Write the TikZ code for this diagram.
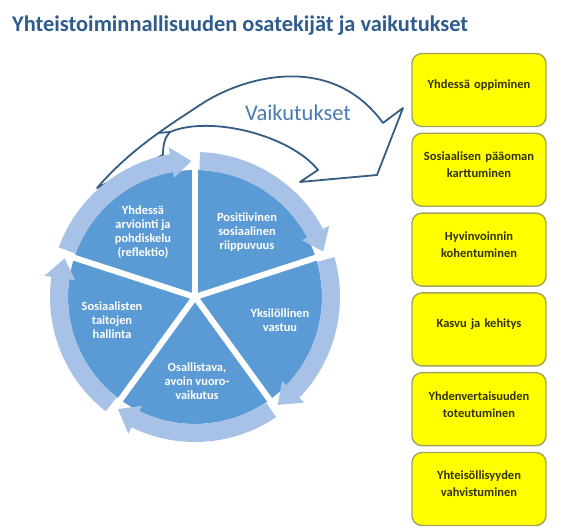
\documentclass[tikz,border=0pt]{standalone}
\usepackage{fontspec}
\setmainfont{Carlito}
\usepackage{xcolor}
\usetikzlibrary{positioning}
\definecolor{VKtitle}{HTML}{2F5C8C}
\definecolor{VKarrow}{HTML}{355C82}
\definecolor{VKlabel}{HTML}{4A7BAF}
\definecolor{VKsector}{HTML}{5B9BD5}
\definecolor{VKring}{HTML}{A7C2E6}
\definecolor{VKyellow}{HTML}{FFFF00}
\definecolor{VKborder}{HTML}{A3A35C}
\definecolor{VKtext}{HTML}{333300}

\begin{document}
\begin{tikzpicture}[
      x=1pt, y=1pt,
      sectortxt/.style={
        text=white, font=\fontsize{12.4}{14}\selectfont\bfseries,
        align=center, inner sep=0pt
      },
      ybox/.style={
        rectangle, rounded corners=10pt,
        draw=VKborder, fill=VKyellow, line width=1.4pt,
        text=VKtext, font=\fontsize{12.5}{17}\selectfont\bfseries,
        text width=122pt, align=center,
        minimum width=134pt, minimum height=73pt, inner sep=0pt,
        execute at end node={\endgraf\vspace{10pt}}
      },
      ringarr/.style={fill=VKring},
      bigarr/.style={fill=white, draw=VKarrow, line width=1.8pt, line join=round}
    ]
    \useasboundingbox (0,0) rectangle (572,529);

    % Title
    \node[anchor=base west, inner sep=0pt, text=VKtitle,
      font=\fontsize{22.4}{27}\selectfont\bfseries] (title) at (12,497)
      {Yhteistoiminnallisuuden osatekijät ja vaikutukset};

    % Outcome column
    \node[ybox] (b1) at (479,439) {Yhdessä oppiminen};
    \node[ybox, below=5.4pt of b1] (b2) {Sosiaalisen pääoman\\karttuminen};
    \node[ybox, below=5.4pt of b2] (b3) {Hyvinvoinnin\\kohentuminen};
    \node[ybox, below=5.4pt of b3] (b4) {Kasvu ja kehitys};
    \node[ybox, below=5.4pt of b4] (b5) {Yhdenvertaisuuden\\toteutuminen};
    \node[ybox, below=5.4pt of b5] (b6) {Yhteisöllisyyden\\vahvistuminen};

    % Curved block arrow (tail hidden under the cycle)
    \filldraw[bigarr]
      (97,341) .. controls (130,379) and (165,401) .. (200,424)
      .. controls (240,451) and (330,479) .. (383,406)
      -- (403,421) -- (377,354) -- (300,347) -- (318,359)
      .. controls (290,394) and (210,414) .. (170,397)
      .. controls (165,392) and (163,385) .. (163,374) -- cycle;
    \draw[VKarrow, line width=1.8pt] (170,397) -- (158,396);
    \node[text=VKlabel, font=\fontsize{22.5}{26}\selectfont] (vaik) at (298,416)
      {Vaikutukset};

    % Cycle of five sectors
    \begin{scope}[shift={(195,232)}]
      \foreach \a/\b in {162/90, 90/18, 18/-54, -54/-126, -126/-198}
        \fill[VKsector] (0,0) -- (\a:127) arc[start angle=\a, end angle=\b, radius=127] -- cycle;
      \foreach \g in {90, 18, -54, -126, 162}
        \draw[white, line width=6pt] (0,0) -- (\g:146);
      \foreach \a/\b in {162/90, 90/18, 18/-54, -54/-126, -126/-198}
        \fill[ringarr] (\a-2:127) arc[start angle=\a-2, end angle=\b+10, radius=127]
          -- (\b+10:121) -- (\b+1.5:136) -- (\b+10:152) -- (\b+10:145)
          arc[start angle=\b+10, end angle=\a-2, radius=145] -- cycle;
    \end{scope}

    \node[sectortxt] (refl)  at (143,297) {Yhdessä\\arviointi ja\\pohdiskelu\\(reflektio)};
    \node[sectortxt] (posit) at (247,297) {Positiivinen\\sosiaalinen\\riippuvuus};
    \node[sectortxt] (yksil) at (280,209) {Yksilöllinen\\vastuu};
    \node[sectortxt] (osall) at (197,148) {Osallistava,\\avoin vuoro-\\vaikutus};
    \node[sectortxt] (taito) at (112,209) {Sosiaalisten\\taitojen\\hallinta};
  \end{tikzpicture}
\end{document}
